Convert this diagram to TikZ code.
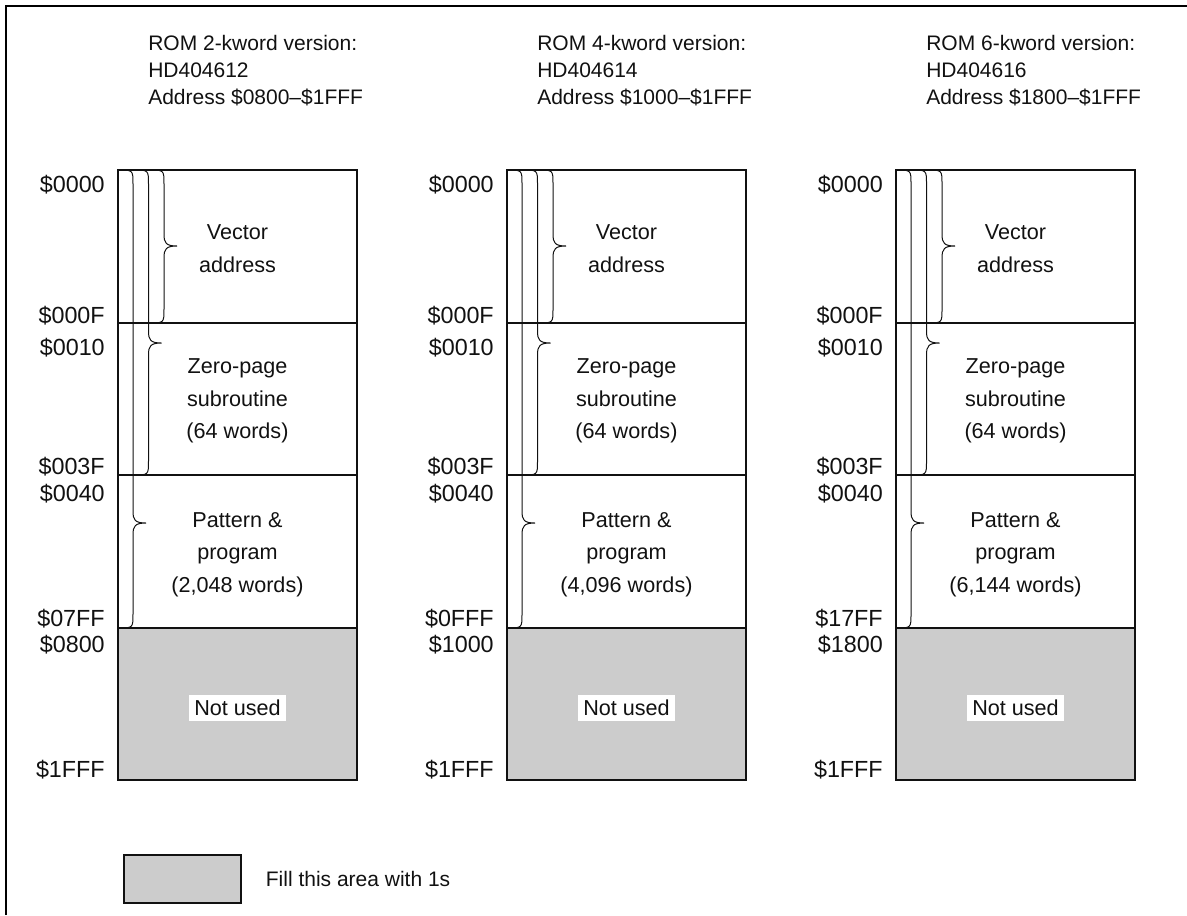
\documentclass[tikz,border=0pt]{standalone}
\usepackage{fontspec}
\setmainfont{Liberation Sans}
\usepackage{xcolor}
\usepackage{tikz}
\usetikzlibrary{positioning}
\definecolor{unused}{RGB}{204,204,204}
\definecolor{Ink}{HTML}{111111}
% brace from the top of the map down to the end of one area
\newcommand{\rombrace}[3]{%
  \draw[brc] (#1,170) .. controls (#1+15,170) .. (#1+15,184)
    -- (#1+15,#3-12) .. controls (#1+15,#3-3) and (#1+17,#3) .. (#1+28,#3)
    .. controls (#1+17,#3) and (#1+15,#3+3) .. (#1+15,#3+12)
    -- (#1+15,#2-14) .. controls (#1+15,#2) .. (#1,#2);}

\begin{document}
\begin{tikzpicture}[x=0.75pt,y=-0.75pt,
  txt/.style={font=\fontsize{16.2}{24.5}\selectfont,text=Ink,inner sep=0pt},
  head/.style={txt,font=\fontsize{15.75}{20.25}\selectfont,align=left,anchor=north west},
  addr/.style={txt,font=\fontsize{17.5}{20}\selectfont,anchor=east},
  region/.style={txt,align=center},
  cell/.style={draw=Ink,line width=0.9pt},
  brc/.style={draw=Ink,line width=0.75pt},
  tag/.style={txt,fill=white,inner sep=4pt},
  key/.style={draw=Ink,line width=0.9pt,fill=unused,minimum width=87.75pt,minimum height=36pt,inner sep=0pt}
]
\useasboundingbox (0,0) rectangle (1187,915);
\draw[line width=1.5pt] (6,915) -- (6,6) -- (1187,6);
\foreach \c/\kw/\id/\lo/\hi/\words in {
  0/2/12/0800/07FF/{2,048},
  1/4/14/1000/0FFF/{4,096},
  2/6/16/1800/17FF/{6,144}} {
  \pgfmathsetmacro{\xl}{118+389*\c}
  \node[head] (hdr\c) at (\xl+30,35) {ROM \kw-kword version:\\HD4046\id\\Address \$\lo--\$1FFF};
  % memory map
  \fill[unused] (\xl,628) rectangle (\xl+239,780);
  \draw[cell] (\xl,170) rectangle (\xl+239,780);
  \foreach \yy in {323,475,628} \draw[cell] (\xl,\yy) -- (\xl+239,\yy);
  \rombrace{\xl}{628}{523}
  \rombrace{\xl+15.5}{475}{343}
  \rombrace{\xl+31}{323}{246}
  \node[region] (vec\c) at (\xl+119.5,248.5) {Vector\\address};
  \node[region] (zp\c) at (\xl+119.5,401) {Zero-page\\subroutine\\(64 words)};
  \node[region] (pat\c) at (\xl+119.5,554.5) {Pattern \&\\program\\(\words\ words)};
  \node[tag] (nu\c) at (\xl+119.5,708) {Not used};
  % addresses
  \node[addr] (a0\c) at (\xl-13,185) {\$0000};
  \node[addr] (a1\c) at (\xl-13,316) {\$000F};
  \node[addr] (a2\c) at (\xl-13,348) {\$0010};
  \node[addr] (a3\c) at (\xl-13,467) {\$003F};
  \node[addr] (a4\c) at (\xl-13,494) {\$0040};
  \node[addr] (a5\c) at (\xl-13,619) {\$\hi};
  \node[addr] (a6\c) at (\xl-13,645) {\$\lo};
  \node[addr] (a7\c) at (\xl-13,770) {\$1FFF};
}
\node[key] (keybox) at (182.5,879) {};
\node[txt,font=\fontsize{15.75}{20}\selectfont,right=18pt of keybox] (keytext) {Fill this area with 1s};
\end{tikzpicture}
\end{document}
